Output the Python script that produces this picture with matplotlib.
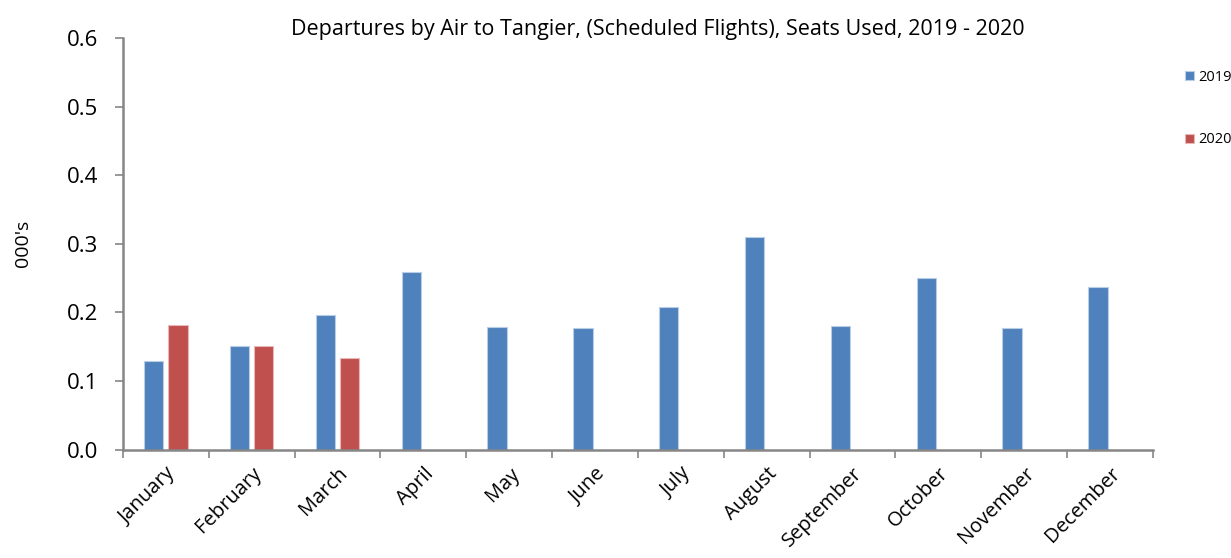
import numpy as np
import matplotlib.pyplot as plt

months = ['January', 'February', 'March', 'April', 'May', 'June', 'July',
          'August', 'September', 'October', 'November', 'December']
seats_2019 = [0.129, 0.151, 0.196, 0.259, 0.179, 0.178, 0.208, 0.310,
              0.181, 0.250, 0.177, 0.237]
seats_2020 = [0.182, 0.151, 0.134, np.nan, np.nan, np.nan, np.nan, np.nan,
              np.nan, np.nan, np.nan, np.nan]

plt.rcParams['font.family'] = ['Open Sans', 'DejaVu Sans']

fig = plt.figure(figsize=(12.31, 5.58), dpi=100)
ax = fig.add_axes([0.0999, 0.194, 0.8367, 0.738])

x = np.arange(len(months))
bw = 0.225
ax.bar(x - 0.141, seats_2019, bw, color='#4F81BD', edgecolor='#B9CDE5',
       linewidth=0.8, label='2019')
ax.bar(x + 0.141, seats_2020, bw, color='#C0504D', edgecolor='#E6B9B8',
       linewidth=0.8, label='2020')

ax.set_xlim(-0.5, len(months) - 0.5)
ax.set_ylim(0, 0.6)
ax.set_yticks(np.arange(0, 0.61, 0.1))
ax.set_yticklabels([f'{v:.1f}' for v in np.arange(0, 0.61, 0.1)], fontsize=16)

# category ticks sit between groups, labels at centers
ax.set_xticks(np.arange(-0.5, len(months), 1.0))
ax.set_xticklabels([])
ax.set_xticks(x, minor=True)
ax.set_xticklabels(months, minor=True, rotation=45, ha='right',
                   rotation_mode='anchor', fontsize=14.5)
ax.tick_params(axis='x', which='minor', length=0, pad=10)
ax.tick_params(axis='x', which='major', length=6, direction='out',
               color='#868686', width=1.2)
ax.tick_params(axis='y', length=6, direction='out', color='#868686',
               width=1.2, pad=12)

for side in ['top', 'right']:
    ax.spines[side].set_visible(False)
for side in ['left', 'bottom']:
    ax.spines[side].set_color('#868686')
    ax.spines[side].set_linewidth(1.8)

fig.text(0.019, 0.563, "000's", rotation=90, ha='center', va='center', fontsize=14)

fig.text(0.534, 0.948, 'Departures by Air to Tangier, (Scheduled Flights), Seats Used, 2019 - 2020',
         ha='center', va='center', fontsize=15.5)

ax.legend(loc='upper left', bbox_to_anchor=(0.958, 0.885), bbox_transform=fig.transFigure,
          frameon=False, fontsize=10.5, handlelength=0.6, handleheight=0.6,
          handletextpad=0.3, labelspacing=3.25, borderaxespad=0)

fig.savefig('out.png', dpi=100)
